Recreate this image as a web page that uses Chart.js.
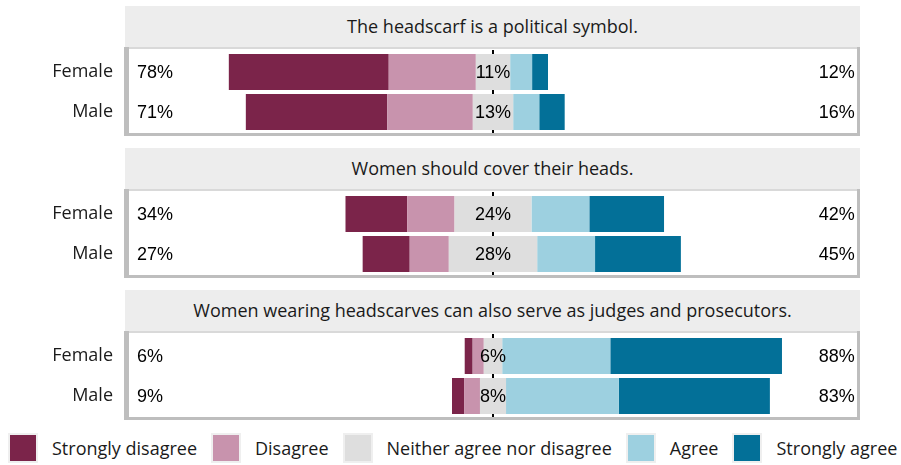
<!DOCTYPE html>
<html>
<head>
<meta charset="utf-8">
<script src="https://cdn.jsdelivr.net/npm/chart.js@4.4.1/dist/chart.umd.min.js"></script>
<style>
  body { margin: 0; background: #fff; }
  #wrap { position: relative; width: 901px; height: 465px; font-family: 'Open Sans', sans-serif; color: #1a1a1a; }
  .strip { position: absolute; left: 125px; width: 735px; height: 41px; background: #ededed;
           text-align: center; line-height: 41px; font-size: 18px; }
  .panel { position: absolute; left: 0; width: 901px; height: 92px; }
  #legend { position: absolute; left: 8px; top: 433px; width: 893px; height: 30px;
            display: flex; justify-content: flex-start; align-items: center; font-size: 18px; }
  #legend .box { display: inline-block; width: 26px; height: 26px; border: 2px solid #efefef; flex: none; }
  #legend .txt { margin-left: 14px; margin-right: 14px; white-space: nowrap; }
</style>
</head>
<body>
<div id="wrap">
  <div class="strip" id="strip0" style="top:6px"></div>
  <div class="panel" style="top:46px"><canvas id="panel0" width="901" height="92"></canvas></div>
  <div class="strip" id="strip1" style="top:148px"></div>
  <div class="panel" style="top:188px"><canvas id="panel1" width="901" height="92"></canvas></div>
  <div class="strip" id="strip2" style="top:290px"></div>
  <div class="panel" style="top:330px"><canvas id="panel2" width="901" height="92"></canvas></div>
  <div id="legend"></div>
</div>
<script>
// Datos
const groups = ['Female', 'Male'];
const questions = [
    'The headscarf is a political symbol.',
    'Women should cover their heads.',
    'Women wearing headscarves can also serve as judges and prosecutors.'
];
const levels = ['Strongly disagree', 'Disagree', 'Neither agree nor disagree', 'Agree', 'Strongly agree'];
const levelColors = ['#7b244a', '#c893ad', '#dedede', '#9dd0e0', '#037098'];

// % por nivel: [SD, D, N, A, SA]
const q1Female = [50.3, 27.4, 10.8, 6.9, 5.0];
const q1Male   = [44.5, 26.9, 12.7, 8.2, 8.0];
const q2Female = [19.4, 14.9, 24.2, 18.2, 23.5];
const q2Male   = [14.8, 12.3, 27.8, 18.2, 27.0];
const q3Female = [2.5, 3.5, 5.8, 34.0, 54.0];
const q3Male   = [3.8, 5.0, 8.2, 35.5, 47.5];

// etiquetas de porcentaje [Female, Male]
const lowPct     = [[78, 71], [34, 27], [6, 9]];
const neutralPct = [[11, 13], [24, 28], [6, 8]];
const highPct    = [[12, 16], [42, 45], [88, 83]];

const panelRows = [[q1Female, q1Male], [q2Female, q2Male], [q3Female, q3Male]];

// Fondo del panel, linea central discontinua y etiquetas
const panelPlugin = {
    id: 'panelDeco',
    beforeDatasetsDraw(chart) {
        const { ctx, chartArea: a } = chart;
        const x0 = chart.scales.x.getPixelForValue(0);
        ctx.save();
        ctx.fillStyle = '#bebebe';
        ctx.fillRect(a.left - 5, a.top - 5, a.right - a.left + 8, a.bottom - a.top + 9);
        ctx.fillStyle = '#d9d9d9';
        ctx.fillRect(a.left, a.top - 5, a.right - a.left, 2);
        ctx.fillStyle = '#ffffff';
        ctx.fillRect(a.left, a.top - 3, a.right - a.left, a.bottom - a.top + 4);
        ctx.strokeStyle = '#000';
        ctx.lineWidth = 2;
        ctx.setLineDash([4, 4]);
        ctx.beginPath();
        ctx.moveTo(x0, a.top - 2);
        ctx.lineTo(x0, a.bottom + 1);
        ctx.stroke();
        ctx.restore();
    },
    afterDatasetsDraw(chart) {
        const { ctx } = chart;
        const qi = chart.options.plugins.panelDeco.question;
        const xs = chart.scales.x, ys = chart.scales.y;
        ctx.save();
        ctx.font = '18px "Liberation Sans", Arial, sans-serif';
        ctx.fillStyle = '#000';
        ctx.textBaseline = 'middle';
        groups.forEach((g, i) => {
            const y = ys.getPixelForValue(i) + 1;
            ctx.textAlign = 'left';
            ctx.fillText(lowPct[qi][i] + '%', xs.getPixelForValue(-112), y);
            ctx.textAlign = 'center';
            ctx.fillText(neutralPct[qi][i] + '%', xs.getPixelForValue(0), y);
            ctx.textAlign = 'right';
            ctx.fillText(highPct[qi][i] + '%', xs.getPixelForValue(113.8), y);
        });
        ctx.restore();
    }
};

function crearPanel(qi) {
    const rows = panelRows[qi];
    document.getElementById('strip' + qi).textContent = questions[qi];

    const ds = (label, color, fn) => ({
        label: label,
        data: rows.map(fn),
        backgroundColor: color,
        borderWidth: 0,
        stack: 'likert',
        barPercentage: 0.9,
        categoryPercentage: 1
    });

    // negativos hacia la izquierda (desde el centro), positivos a la derecha
    const datasets = [
        ds(levels[2], levelColors[2], r => -r[2] / 2),
        ds(levels[1], levelColors[1], r => -r[1]),
        ds(levels[0], levelColors[0], r => -r[0]),
        ds(levels[2], levelColors[2], r => r[2] / 2),
        ds(levels[3], levelColors[3], r => r[3]),
        ds(levels[4], levelColors[4], r => r[4])
    ];

    return new Chart(document.getElementById('panel' + qi).getContext('2d'), {
        type: 'bar',
        data: { labels: groups, datasets: datasets },
        options: {
            indexAxis: 'y',
            responsive: false,
            animation: false,
            layout: { padding: { top: 6, bottom: 6, left: 0, right: 44 } },
            scales: {
                x: { stacked: true, min: -114.5, max: 114.5, display: false },
                y: {
                    stacked: true,
                    grid: { display: false, drawTicks: false },
                    border: { display: false },
                    ticks: {
                        color: '#1a1a1a',
                        padding: 16,
                        font: { family: "'Open Sans', sans-serif", size: 18 }
                    },
                    afterFit(scale) {
                        scale.width = 129;
                        scale.paddingTop = 0;
                        scale.paddingBottom = 0;
                    }
                }
            },
            plugins: {
                legend: { display: false },
                tooltip: { enabled: false },
                panelDeco: { question: qi }
            }
        },
        plugins: [panelPlugin]
    });
}

[0, 1, 2].forEach(crearPanel);

// Leyenda
const legendDiv = document.getElementById('legend');
levels.forEach((lv, i) => {
    const box = document.createElement('span');
    box.className = 'box';
    box.style.background = levelColors[i];
    const txt = document.createElement('span');
    txt.className = 'txt';
    txt.textContent = lv;
    legendDiv.appendChild(box);
    legendDiv.appendChild(txt);
});
</script>
</body>
</html>
